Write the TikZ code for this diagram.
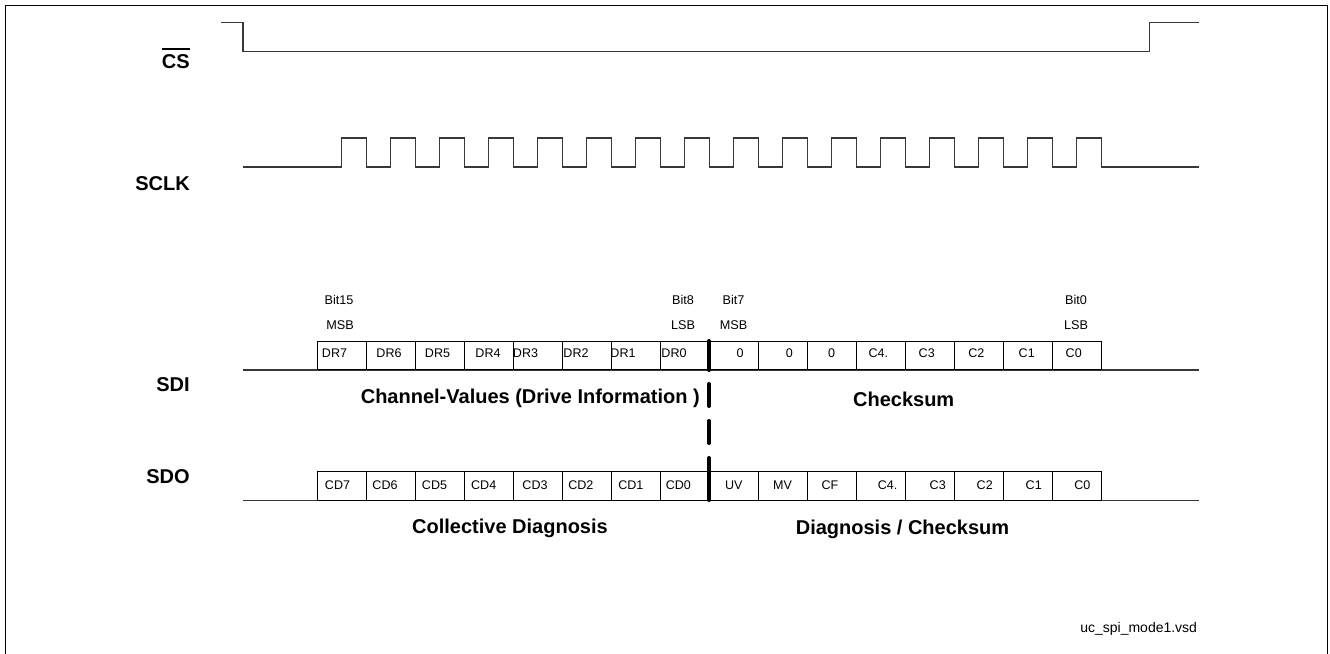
\documentclass[tikz,border=0pt]{standalone}
\usepackage{fontspec}
\setmainfont{Liberation Sans}
\begin{document}
\begin{tikzpicture}[x=0.75pt,y=-0.75pt,
  wave/.style={line width=0.9pt, draw=black!78},
  cellbox/.style={draw, line width=0.6pt, minimum width=36.75pt, minimum height=21.5pt, inner sep=0pt},
  celltxt/.style={font=\fontsize{9.4}{11}\selectfont, inner sep=0pt},
  bittxt/.style={font=\fontsize{9.5}{11}\selectfont, inner sep=0pt},
  siglabel/.style={font=\fontsize{15}{18}\selectfont\bfseries, inner sep=0pt, anchor=base east},
  grouplabel/.style={font=\fontsize{15}{18}\selectfont\bfseries, inner sep=0pt, anchor=base},
  divider/.style={line width=3pt, line cap=round, draw=black}]
\useasboundingbox (0,0) rectangle (1330,653);
\draw[line width=0.75pt] (5,656) -- (5,5) -- (1327,5) -- (1327,656);

% signal labels
\node[siglabel] (cs) at (190,68.5) {CS};
\draw[line width=1.3pt] (cs.north west |- 0,49) -- (cs.north east |- 0,49);
\node[siglabel] (sclk) at (190,190) {SCLK};
\node[siglabel] (sdi) at (190,391.5) {SDI};
\node[siglabel] (sdo) at (190,483) {SDO};

% CS waveform
\coordinate (csa) at (221,22.7);
\coordinate (csb) at (243,51.7);
\coordinate (csc) at (1149.3,22.7);
\coordinate (csd) at (1199,22.7);
\draw[wave] (csa) -| (csb) -| (csc) -- (csd);

% SCLK waveform
\coordinate (clk0) at (243,167);
\coordinate (clk1) at (1199,167);
\draw[wave] (clk0)
  \foreach \k in {0,...,15}{ -- ({341.7+49*\k},167) -- ({341.7+49*\k},138) -- ({366.2+49*\k},138) -- ({366.2+49*\k},167)}
  -- (clk1);

% SDI line and cells
\coordinate (sdia) at (243,370);
\coordinate (sdib) at (1199,370);
\draw[wave] (sdia) -- (sdib);
\foreach \t/\cx [count=\i from 0] in {DR7/334.5,DR6/389,DR5/437.5,DR4/488,DR3/525.5,DR2/576,DR1/623,DR0/674,0/740,0/789.3,0/831.7,C4./878.3,C3/926.7,C2/976.3,C1/1026.7,C0/1073.7}{
  \node[cellbox] (sdic\i) at ({341.8+49*\i},355.5) {};
  \node[celltxt] (sdit\i) at (\cx,353.5) {\t};
}

% SDO line and cells
\coordinate (sdoa) at (243,500.3);
\coordinate (sdob) at (1199,500.3);
\draw[wave] (sdoa) -- (sdob);
\foreach \t/\cx [count=\i from 0] in {CD7/337.5,CD6/385,CD5/434.5,CD4/483.7,CD3/535,CD2/580.8,CD1/630.8,CD0/678.3,UV/733.7,MV/782.5,CF/830,C4./887.5,C3/937.7,C2/984.7,C1/1033.7,C0/1082.3}{
  \node[cellbox] (sdoc\i) at ({341.8+49*\i},486) {};
  \node[celltxt] (sdot\i) at (\cx,485) {\t};
}

% bit labels
\node[bittxt] (b15) at (339,299.5) {Bit15};
\node[bittxt] (m15) at (340,325) {MSB};
\node[bittxt] (b8) at (683,299.5) {Bit8};
\node[bittxt] (l8) at (683,325) {LSB};
\node[bittxt] (b7) at (733.5,299.5) {Bit7};
\node[bittxt] (m7) at (733.5,325) {MSB};
\node[bittxt] (b0) at (1076,299.5) {Bit0};
\node[bittxt] (l0) at (1076,325) {LSB};

% group labels
\node[grouplabel] (chv) at (530.3,403.5) {Channel-Values (Drive Information )};
\node[grouplabel] (chk) at (903.7,406) {Checksum};
\node[grouplabel] (cold) at (510,533.5) {Collective Diagnosis};
\node[grouplabel] (diag) at (902.5,534.5) {Diagnosis / Checksum};

% divider (thick dashed)
\coordinate (d1a) at (709,341); \coordinate (d1b) at (709,370);
\coordinate (d2a) at (709,384); \coordinate (d2b) at (709,406);
\coordinate (d3a) at (709,421); \coordinate (d3b) at (709,443);
\coordinate (d4a) at (709,458); \coordinate (d4b) at (709,500);
\draw[divider] (d1a) -- (d1b) (d2a) -- (d2b) (d3a) -- (d3b) (d4a) -- (d4b);

% file name
\node[font=\fontsize{10.5}{12}\selectfont, inner sep=0pt, anchor=base east] (fname) at (1197.3,632) {uc\_spi\_mode1.vsd};
\end{tikzpicture}
\end{document}
